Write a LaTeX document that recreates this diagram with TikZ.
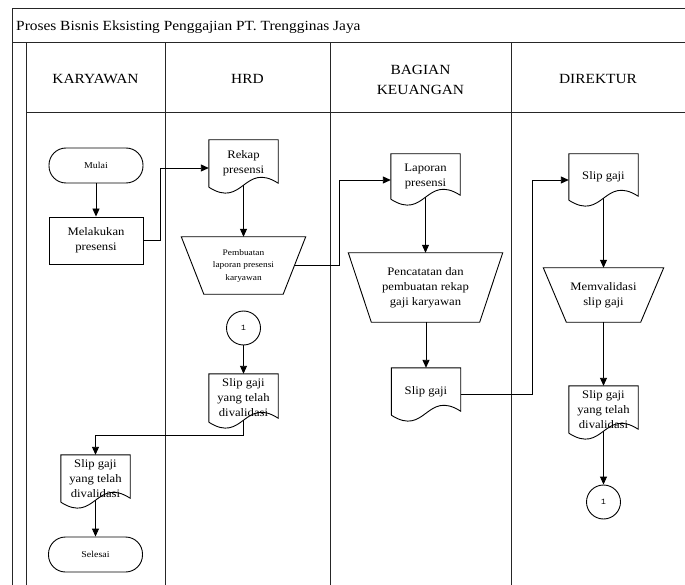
\documentclass[tikz,border=0pt]{standalone}
\usepackage{fontspec}
\setmainfont{Liberation Serif}[FakeStretch=1.1]
\newfontfamily\monofont{Liberation Mono}
\usetikzlibrary{arrows.meta,calc}

% outline of a document symbol: straight top and sides, wavy bottom
\newcommand{\docline}[1]{%
  \draw[outline] (#1.south west) -- (#1.north west) -- (#1.north east)
    -- ([yshift=4pt]#1.south east)
    .. controls +(-34.5,-22) and +(34.5,22) .. (#1.south west);}
% outline of a manual-operation symbol (trapezium, wide side up)
\newcommand{\trapline}[2]{%
  \draw[outline] (#1.north west) -- (#1.north east)
    -- ([xshift=-#2]#1.south east) -- ([xshift=#2]#1.south west) -- cycle;}

\begin{document}
\begin{tikzpicture}[x=1pt,y=-1pt,
  lane/.style={line width=1pt, draw=black!85},
  outline/.style={line width=0.9pt, draw=black},
  flow/.style={line width=0.9pt, -{Triangle[length=8pt,width=7pt]}},
  bodytext/.style={font=\fontsize{11.5}{15}\selectfont},
  headtext/.style={align=center, font=\fontsize{14}{19.5}\selectfont},
  term/.style={draw, line width=0.9pt, rounded corners=17pt, minimum width=94pt,
    minimum height=35pt, inner sep=0pt, font=\fontsize{9}{11}\selectfont},
  procbox/.style={draw, line width=0.9pt, minimum width=94pt, minimum height=47pt,
    inner sep=0pt, align=center, bodytext},
  docbox/.style={minimum width=69pt, minimum height=#1, inner sep=0pt,
    align=center, bodytext},
  trapbox/.style={inner sep=0pt, align=center},
  conn/.style={circle, draw, line width=0.9pt, minimum size=34pt, inner sep=0pt,
    font=\monofont\fontsize{8}{10}\selectfont}
]
\fill[white] (0,0) rectangle (685,585);
\useasboundingbox (0,0) rectangle (685,585);

% swimlane frame
\draw[lane] (12,585) -- (12,9) -- (685,9);
\draw[lane] (12,43) -- (685,43);
\draw[lane] (26,43) -- (26,585);
\draw[lane] (26,113) -- (685,113);
\foreach \x in {165,330,511} \draw[lane] (\x,43) -- (\x,585);

\node[anchor=west, inner sep=4pt, font=\fontsize{14}{17}\selectfont] (title) at (12,27)
  {Proses Bisnis Eksisting Penggajian PT. Trengginas Jaya};

\node[headtext] (hkaryawan) at (95.5,79) {KARYAWAN};
\node[headtext] (hhrd) at (247.5,79) {HRD};
\node[headtext] (hkeuangan) at (420.5,80) {BAGIAN\\KEUANGAN};
\node[headtext] (hdirektur) at (598,79) {DIREKTUR};

% KARYAWAN
\node[term] (mulai) at (96,165.5) {Mulai};
\node[procbox] (melakukan) at (96,240.5) {Melakukan\\presensi};
\node[docbox=47pt] (validkar) at (95.5,478.5) {Slip gaji\\yang telah\\divalidasi};
\docline{validkar}
\node[term] (selesai) at (95.5,554.5) {Selesai};

% HRD
\node[docbox=47pt] (rekap) at (243.5,163.5) {Rekap\\presensi};
\docline{rekap}
\node[trapbox, minimum width=124pt, minimum height=57pt,
  font=\fontsize{8.5}{12.5}\selectfont] (pembuatan) at (243.5,265.5)
  {Pembuatan\\laporan presensi\\karyawan};
\trapline{pembuatan}{22.5pt}
\coordinate (pembuatan-r) at ($(pembuatan.east)+(-11.25,0)$);
\node[conn] (onehrd) at (243.5,328) {1};
\node[docbox=48pt] (validhrd) at (243.5,398) {Slip gaji\\yang telah\\divalidasi};
\docline{validhrd}

% BAGIAN KEUANGAN
\node[docbox=45pt] (laporan) at (425.5,176.5) {Laporan\\presensi};
\docline{laporan}
\node[trapbox, minimum width=154pt, minimum height=69pt, bodytext]
  (pencatatan) at (425.5,287.5) {Pencatatan dan\\pembuatan rekap\\gaji karyawan};
\trapline{pencatatan}{23pt}
\node[docbox=47pt] (slipkeu) at (426,391.5) {Slip gaji};
\docline{slipkeu}

% DIREKTUR
\node[docbox=46pt] (slipdir) at (603.5,177) {Slip gaji};
\docline{slipdir}
\node[trapbox, minimum width=120pt, minimum height=54pt, bodytext]
  (memvalidasi) at (603.5,295) {Memvalidasi\\slip gaji};
\trapline{memvalidasi}{23pt}
\node[docbox=47pt] (validdir) at (603.5,409.5) {Slip gaji\\yang telah\\divalidasi};
\docline{validdir}
\node[conn] (onedir) at (603.5,502) {1};

% flow
\draw[flow] (mulai) -- (melakukan);
\draw[flow] (melakukan.east) -- ++(17,0) |- ([yshift=-4.5pt]rekap.west);
\draw[flow] ([yshift=2pt]rekap.south) -- (pembuatan.north);
\draw[flow] (pembuatan-r) -- ++(44.5,0) |- ([yshift=-3.5pt]laporan.west);
\draw[flow] ([yshift=2pt]laporan.south) -- (laporan.south |- pencatatan.north);
\draw[flow] (slipkeu.north |- pencatatan.south) -- (slipkeu.north);
\draw[flow] ([yshift=-2.5pt]slipkeu.east) -- ++(72,0) |- ([yshift=-3pt]slipdir.west);
\draw[flow] ([yshift=2pt]slipdir.south) -- (memvalidasi.north);
\draw[flow] (memvalidasi.south) -- (validdir.north);
\draw[flow] ([yshift=2pt]validdir.south) -- (onedir.north);
\draw[flow] (onehrd.south) -- (validhrd.north);
\draw[flow] ([yshift=2pt]validhrd.south) -- ++(0,15) -| (validkar.north);
\draw[flow] ([yshift=2pt]validkar.south) -- (selesai.north);
\end{tikzpicture}
\end{document}
